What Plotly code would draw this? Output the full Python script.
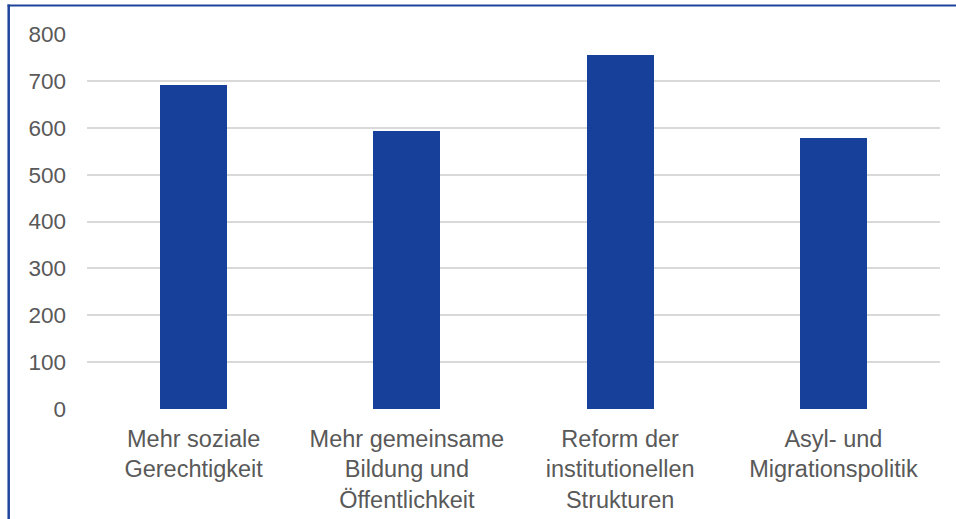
import plotly.graph_objects as go

categories = [
    "Mehr soziale<br>Gerechtigkeit",
    "Mehr gemeinsame<br>Bildung und<br>Öffentlichkeit",
    "Reform der<br>institutionellen<br>Strukturen",
    "Asyl- und<br>Migrationspolitik",
]
values = [691, 593, 755, 578]
y_ticks = [0, 100, 200, 300, 400, 500, 600, 700, 800]

W, H = 956, 519
L, R, T, B = 87, 16, 34, 110
pw, ph = W - L - R, H - T - B

def px_x(x):
    return (x - L) / pw

def px_y(y):
    return (H - B - y) / ph

fig = go.Figure(
    go.Bar(
        x=categories,
        y=values,
        marker=dict(color="#17409A", line=dict(width=0)),
        width=0.315,
    )
)

text_color = "#595959"
fig.update_layout(
    width=W,
    height=H,
    margin=dict(l=L, r=R, t=T, b=B, autoexpand=False),
    paper_bgcolor="white",
    plot_bgcolor="white",
    font=dict(family="Liberation Sans, Arial, sans-serif", size=23, color=text_color),
    showlegend=False,
    bargap=0,
    xaxis=dict(
        showgrid=False,
        showline=False,
        ticks="",
        automargin=False,
        tickfont=dict(size=23.5, color=text_color),
        ticklabelstandoff=13,
    ),
    yaxis=dict(
        range=[0, 800],
        tickvals=y_ticks,
        showgrid=True,
        gridcolor="#d9d9d9",
        gridwidth=1.5,
        zeroline=False,
        showline=False,
        ticks="",
        automargin=False,
        tickfont=dict(size=22.5, color=text_color),
        ticklabelstandoff=20,
    ),
    shapes=[
        dict(type="line", xref="paper", yref="paper",
             x0=px_x(8.7), x1=px_x(8.7), y0=px_y(4.5), y1=px_y(H + 5),
             line=dict(color="#1F449C", width=2.5)),
        dict(type="line", xref="paper", yref="paper",
             x0=px_x(7.5), x1=px_x(W + 5), y0=px_y(5.5), y1=px_y(5.5),
             line=dict(color="#1F449C", width=2)),
    ],
)

fig.write_html(
    "out.html",
    config={"displayModeBar": False},
    post_script="document.body.style.margin='0';document.body.style.padding='0';",
)
